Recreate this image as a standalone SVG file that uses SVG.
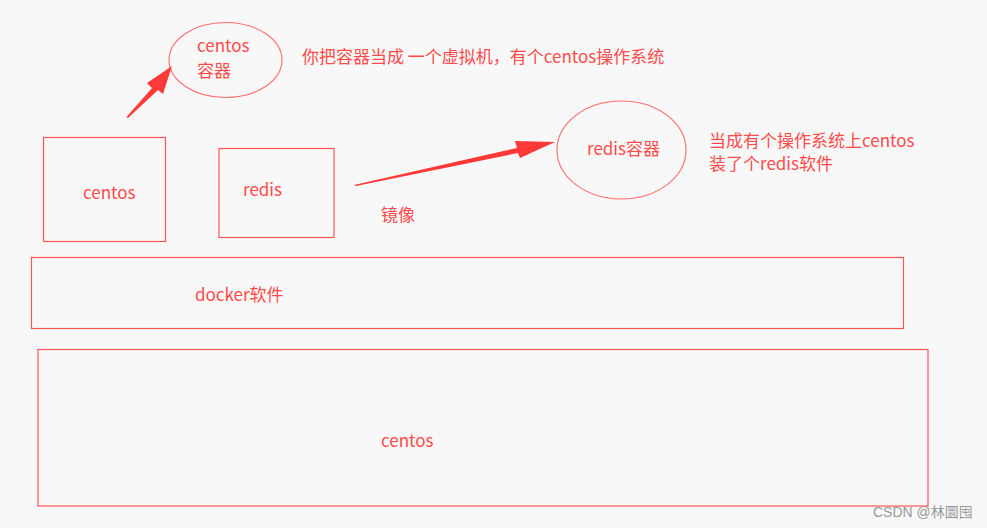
<svg xmlns="http://www.w3.org/2000/svg" width="987" height="528" viewBox="0 0 987 528">
<style>
.bx{fill:none;stroke:#ff5454;stroke-width:1.2}
.el{fill:none;stroke:#ff6a6a;stroke-width:1.1}
.t{font-family:"Noto Sans CJK SC","Noto Sans",sans-serif;fill:#ff4a4a;font-size:17px}
.ar{fill:#ff3838}
.wm{font-family:"Liberation Sans","Noto Sans CJK SC",sans-serif;fill:#9a9a9a;font-size:14px}
</style>
<rect width="987" height="528" fill="#f8f8f8"/>
<g id="centos-host"><rect class="bx" x="38" y="349.5" width="890" height="156.5"/><text class="t" x="381" y="447">centos</text></g>
<g id="docker"><rect class="bx" x="31.5" y="257.5" width="872" height="71"/><text class="t" x="195" y="301">docker软件</text></g>
<g id="centos-image"><rect class="bx" x="43.5" y="137.5" width="122" height="104"/><text class="t" x="83" y="199">centos</text></g>
<g id="redis-image"><rect class="bx" x="219" y="148.5" width="115" height="89"/><text class="t" x="243" y="196">redis</text></g>
<g id="centos-container"><ellipse class="el" cx="225.5" cy="60" rx="56.5" ry="37.5"/><text class="t" x="197" y="52">centos</text><text class="t" x="197" y="77">容器</text></g>
<g id="redis-container"><ellipse class="el" cx="621.5" cy="150" rx="64.5" ry="49"/><text class="t" x="587" y="155">redis容器</text></g>
<g id="labels">
<text class="t" x="302" y="63">你把容器当成 一个虚拟机，有个centos操作系统</text>
<text class="t" x="709" y="147">当成有个操作系统上centos</text>
<text class="t" x="709" y="170">装了个redis软件</text>
<text class="t" x="381" y="221">镜像</text>
</g>
<g id="connectors">
<polygon class="ar" points="126.5,117 152,88 147,83 172,66 163,94 158,90 128,118"/>
<polygon class="ar" points="354,185 517,148 515,141 555,142 520,158 518,153 356,186"/>
</g>
<text class="wm" x="873" y="517">CSDN @林圜囤</text>
</svg>
